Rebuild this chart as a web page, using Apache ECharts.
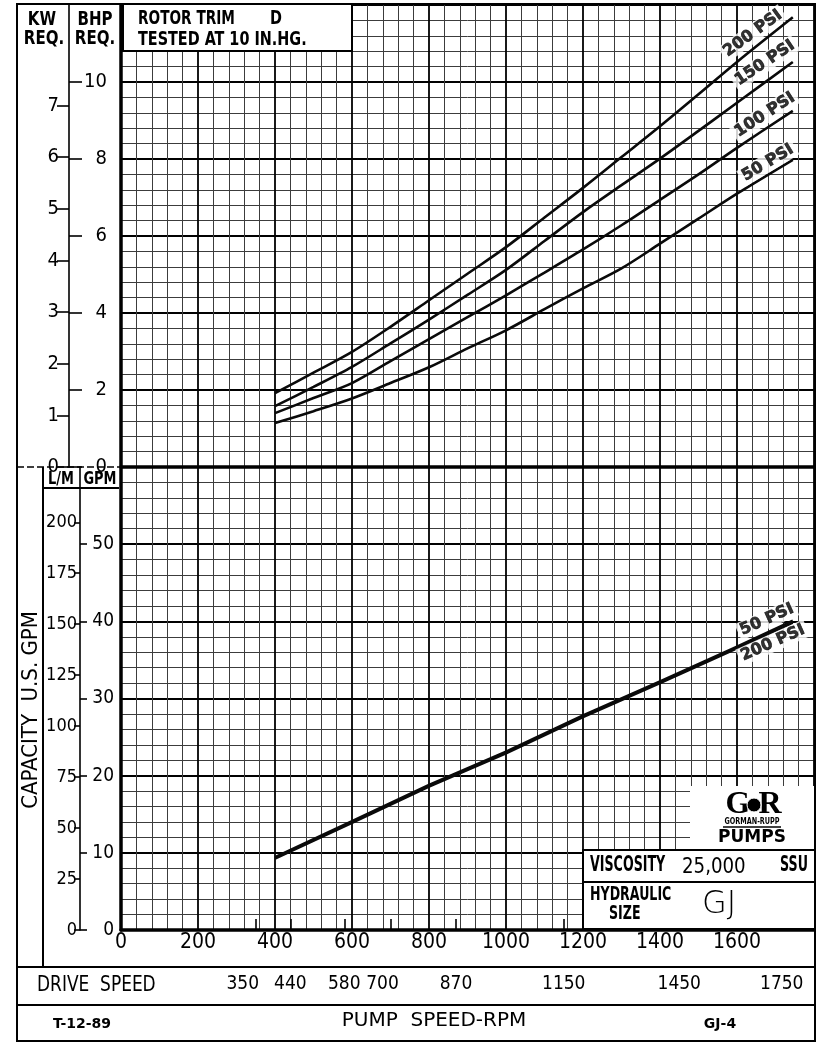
<!DOCTYPE html>
<html>
<head>
<meta charset="utf-8">
<title>GJ-4 pump performance</title>
<script src="https://cdn.jsdelivr.net/npm/echarts@6/dist/echarts.min.js"></script>
<style>
  html, body { margin: 0; padding: 0; background: #fff; }
  #chart { width: 820px; height: 1044px; }
</style>
</head>
<body>
<div id="chart"></div>
<script>
// power curves, BHP vs pump speed
const rpmBhp = [400, 500, 600, 700, 800, 900, 1000, 1100, 1200, 1300, 1400, 1500, 1600, 1745];
const bhp50  = [1.14, 1.45, 1.78, 2.18, 2.59, 3.08, 3.55, 4.10, 4.64, 5.16, 5.80, 6.45, 7.10, 7.98];
const bhp100 = [1.40, 1.79, 2.18, 2.75, 3.32, 3.89, 4.46, 5.05, 5.65, 6.28, 6.94, 7.60, 8.29, 9.25];
const bhp150 = [1.58, 2.08, 2.60, 3.21, 3.83, 4.47, 5.12, 5.87, 6.62, 7.32, 8.01, 8.73, 9.46, 10.52];
const bhp200 = [1.92, 2.45, 2.99, 3.64, 4.33, 5.02, 5.71, 6.48, 7.25, 8.05, 8.85, 9.68, 10.52, 11.68];

// capacity curves, GPM vs pump speed
const rpmGpm = [400, 600, 800, 1000, 1200, 1400, 1600, 1745];
const gpm50  = [9.45, 14.1, 18.8, 23.1, 27.8, 32.2, 36.7, 40.1];
const gpm200 = [9.25, 13.9, 18.6, 22.9, 27.6, 32.0, 36.5, 39.8];

// tick labels
const rpmLabels = [0, 200, 400, 600, 800, 1000, 1200, 1400, 1600];
const driveSpeeds = [350, 440, 580, 700, 870, 1150, 1450, 1750];
const bhpLabels = [0, 2, 4, 6, 8, 10];
const kwLabels = [0, 1, 2, 3, 4, 5, 6, 7];
const gpmLabels = [0, 10, 20, 30, 40, 50];
const lpmLabels = [0, 25, 50, 75, 100, 125, 150, 175, 200];

const KW_PER_BHP = 1 / 1.341;
const LPM_PER_GPM = 3.785;

// layout (px)
const frame = { left: 17, top: 4, right: 815, bottom: 1041 };
const plot = { left: 121, right: 814, top: 5, split: 467, bottom: 930 };
const rowA = 967, rowB = 1005;
const kwAxisX = 69, gpmAxisX = 80, lpmColX = 43;

const numFont = '"DejaVu Sans Condensed", "DejaVu Sans", sans-serif';
const cadFont = '"DejaVu Sans Condensed", sans-serif';
const wideFont = '"DejaVu Sans", sans-serif';
const plain = v => String(v);

const major = { show: true, lineStyle: { color: '#000', width: 1.8 } };
const minor = { show: true, lineStyle: { color: '#3c3c3c', width: 1 } };

function borderY(gridIndex, max, interval) {
  return {
    type: 'value', gridIndex, position: 'left', min: 0, max, interval,
    axisLine: { show: true, onZero: false, lineStyle: { color: '#000', width: 3.5 } },
    axisTick: { show: false }, axisLabel: { show: false },
    splitLine: major, minorTick: { show: false, splitNumber: 5 }, minorSplitLine: minor
  };
}

function scaleY(gridIndex, max, offset, values, o) {
  return {
    type: 'value', gridIndex, position: 'left', offset, min: 0, max,
    axisLine: { show: o.line, onZero: false, lineStyle: { color: '#000', width: 1.6 } },
    axisTick: { show: true, inside: o.inside, length: o.tick, customValues: values,
      lineStyle: { color: '#000', width: 1.6 } },
    axisLabel: { show: true, inside: o.inside, margin: o.margin, align: 'right', formatter: plain,
      customValues: values, color: '#000', fontSize: o.size, fontFamily: numFont },
    splitLine: { show: false }
  };
}

function borderX(gridIndex) {
  return {
    type: 'value', gridIndex, position: 'bottom', min: 0, max: 1800, interval: 200,
    axisLine: { show: true, onZero: false, lineStyle: { color: '#000', width: 3.5 } },
    axisTick: { show: false }, axisLabel: { show: false },
    splitLine: major, minorTick: { show: false, splitNumber: 5 }, minorSplitLine: minor
  };
}

// drive speed labels that sit a little left of their tick on the sheet
const nudge = { 350: 's', 700: 't', 1750: 's' };
const driveText = { fontSize: 19, fontFamily: numFont, color: '#000' };
const xAxes = [borderX(0), borderX(1), {
  type: 'value', gridIndex: 1, position: 'bottom', offset: rowA - plot.bottom,
  min: 0, max: 1800,
  axisLine: { show: false },
  axisTick: { show: true, inside: true, length: 11, customValues: driveSpeeds,
    lineStyle: { color: '#000', width: 1.6 } },
  axisLabel: Object.assign({ show: true, margin: 8, customValues: driveSpeeds,
    formatter: v => nudge[v] ? '{' + nudge[v] + '|' + v + '}' : String(v),
    rich: {
      s: Object.assign({ padding: [0, 26, 0, 0] }, driveText),
      t: Object.assign({ padding: [0, 16, 0, 0] }, driveText)
    } }, driveText),
  splitLine: { show: false }
}];
xAxes[1].axisLabel = { show: true, margin: 2, customValues: rpmLabels, color: '#000', formatter: plain,
  fontSize: 21, fontFamily: numFont };

const yAxes = [
  borderY(0, 12, 2),
  scaleY(0, 12, plot.left - kwAxisX, bhpLabels, { line: true, inside: true, tick: 13, margin: 38, size: 20 }),
  scaleY(0, 12 * KW_PER_BHP, plot.left - kwAxisX, kwLabels, { line: false, inside: false, tick: 12, margin: 10, size: 20 }),
  borderY(1, 60, 10),
  scaleY(1, 60, plot.left - gpmAxisX, gpmLabels, { line: true, inside: true, tick: 7, margin: 34, size: 19 }),
  scaleY(1, 60 * LPM_PER_GPM, plot.left - gpmAxisX, lpmLabels, { line: false, inside: false, tick: 6, margin: 3, size: 18 })
];

const curveStyle = { color: '#0a0a0a', width: 2.6 };
const topCurves = [
  { name: '200 PSI', values: bhp200 },
  { name: '150 PSI', values: bhp150 },
  { name: '100 PSI', values: bhp100 },
  { name: '50 PSI', values: bhp50 }
];
const bottomCurves = [
  { name: '50 PSI', values: gpm50 },
  { name: '200 PSI', values: gpm200 }
];
// PSI tags: angle and screen shift of the tag centre from the curve end
const topTag = {
  '200 PSI': { rotate: 36, shift: [-40, 16] },
  '150 PSI': { rotate: 34, shift: [-28, 1] },
  '100 PSI': { rotate: 33, shift: [-28, 4] },
  '50 PSI': { rotate: 31, shift: [-25, 3] }
};
const bottomTag = {
  '50 PSI': { rotate: 24, shift: [-26, -1] },
  '200 PSI': { rotate: 24, shift: [-20, 20] }
};

function tagLabel(t) {
  // label offset is applied in the rotated frame
  const a = t.rotate * Math.PI / 180;
  const [dx, dy] = t.shift;
  return {
    show: true, position: 'inside', align: 'center', verticalAlign: 'middle',
    rotate: t.rotate,
    offset: [dx * Math.cos(a) - dy * Math.sin(a), dx * Math.sin(a) + dy * Math.cos(a)],
    formatter: '{a}',
    color: '#000', fontSize: 16, fontWeight: 'bold', fontFamily: wideFont,
    textBorderWidth: 0.7, textBorderColor: '#000',
    backgroundColor: '#fff', padding: [1, 3]
  };
}

const series = [];
topCurves.forEach(c => {
  series.push({
    name: c.name, type: 'line', xAxisIndex: 0, yAxisIndex: 0, smooth: 0.3,
    showSymbol: false, lineStyle: curveStyle, z: 5,
    data: rpmBhp.map((r, i) => [r, c.values[i]])
  });
  const last = rpmBhp.length - 1;
  series.push({
    name: c.name, type: 'scatter', xAxisIndex: 0, yAxisIndex: 0, symbolSize: 0, z: 30,
    itemStyle: { color: '#000' },
    label: tagLabel(topTag[c.name]), data: [[rpmBhp[last], c.values[last]]]
  });
});
bottomCurves.forEach(c => {
  series.push({
    name: c.name, type: 'line', xAxisIndex: 1, yAxisIndex: 3,
    showSymbol: false, lineStyle: curveStyle, z: 5,
    data: rpmGpm.map((r, i) => [r, c.values[i]])
  });
  const last = rpmGpm.length - 1;
  series.push({
    name: c.name, type: 'scatter', xAxisIndex: 1, yAxisIndex: 3, symbolSize: 0, z: 30,
    itemStyle: { color: '#000' },
    label: tagLabel(bottomTag[c.name]), data: [[rpmGpm[last], c.values[last]]]
  });
});

// frame, boxes and fixed texts
const g = [];
function line(x1, y1, x2, y2, w, dash) {
  g.push({ type: 'line', silent: true, z: 20, shape: { x1, y1, x2, y2 },
    style: { stroke: '#000', lineWidth: w, lineDash: dash || null } });
}
function box(x, y, w, h, stroke) {
  g.push({ type: 'rect', silent: true, z: 18, shape: { x, y, width: w, height: h },
    style: { fill: '#fff', stroke: stroke ? '#000' : null, lineWidth: stroke || 0 } });
}
function txt(x, y, text, font, align, sx, rot) {
  g.push({ type: 'text', silent: true, z: 25, x, y, rotation: rot || 0, scaleX: sx || 1,
    style: { x: 0, y: 0, text, font, fill: '#000', align: align || 'left', verticalAlign: 'middle',
      textAlign: align || 'left', textVerticalAlign: 'middle' } });
}

g.push({ type: 'rect', silent: true, z: 21,
  shape: { x: frame.left, y: frame.top, width: frame.right - frame.left, height: frame.bottom - frame.top },
  style: { fill: null, stroke: '#000', lineWidth: 2 } });

// header of the power part
box(plot.left + 2, frame.top, 352 - plot.left - 2, 51 - frame.top, 2);
txt(138, 19, 'ROTOR TRIM', 'bold 20px ' + cadFont, 'left', 0.76);
txt(276, 19, 'D', 'bold 20px ' + cadFont, 'center', 0.8);
txt(138, 40, 'TESTED AT 10 IN.HG.', 'bold 20px ' + cadFont, 'left', 0.8);
txt(42, 20, 'KW', 'bold 19px ' + cadFont, 'center', 0.88);
txt(44, 39, 'REQ.', 'bold 19px ' + cadFont, 'center', 0.88);
txt(95, 20, 'BHP', 'bold 19px ' + cadFont, 'center', 0.88);
txt(95, 39, 'REQ.', 'bold 19px ' + cadFont, 'center', 0.88);

// header of the capacity part
line(frame.left, plot.split, plot.left - 2, plot.split, 1.5, [7, 3]);
line(lpmColX, plot.split, lpmColX, rowA, 2);
line(lpmColX, 488, plot.left - 2, 488, 2);
txt(61, 479, 'L/M', 'bold 18px ' + cadFont, 'center', 0.8);
txt(100, 479, 'GPM', 'bold 18px ' + cadFont, 'center', 0.8);
txt(31, 710, 'CAPACITY  U.S. GPM', '22px ' + numFont, 'center', 1, Math.PI / 2);

// rows under the plot
line(frame.left, rowA, frame.right, rowA, 2);
line(frame.left, rowB, frame.right, rowB, 2);
txt(37, 986, 'DRIVE  SPEED', '21px ' + cadFont, 'left', 0.9);
txt(53, 1024, 'T-12-89', 'bold 14px ' + wideFont);
txt(434, 1021, 'PUMP  SPEED-RPM', '20px ' + wideFont, 'center');
txt(720, 1024, 'GJ-4', 'bold 14px ' + wideFont, 'center');

// maker's logo and data boxes
box(690, 786, frame.right - 690, 850 - 786, 0);
box(583, 850, frame.right - 583, 32, 2);
box(583, 882, frame.right - 583, plot.bottom - 882 - 1, 2);
txt(738, 805, 'G', 'bold 32px "Liberation Serif", serif', 'center');
txt(770, 805, 'R', 'bold 32px "Liberation Serif", serif', 'center');
g.push({ type: 'circle', silent: true, z: 26, shape: { cx: 754, cy: 805, r: 7 },
  style: { fill: '#000', stroke: '#fff', lineWidth: 1 } });
txt(752, 822, 'GORMAN-RUPP', 'bold 9px ' + cadFont, 'center', 0.8);
line(723, 827, 781, 827, 1.5);
txt(752, 838, 'PUMPS', 'bold 17px ' + wideFont, 'center');
txt(590, 866, 'VISCOSITY', 'bold 21px ' + cadFont, 'left', 0.67);
txt(682, 867, '25,000', '22px ' + numFont, 'left', 0.92);
txt(808, 866, 'SSU', 'bold 21px ' + cadFont, 'right', 0.67);
txt(590, 895, 'HYDRAULIC', 'bold 20px ' + cadFont, 'left', 0.7);
txt(609, 914, 'SIZE', 'bold 20px ' + cadFont, 'left', 0.7);
txt(702, 905, 'GJ', '200 32px ' + wideFont);

const chart = echarts.init(document.getElementById('chart'), null, { renderer: 'canvas' });
chart.setOption({
  animation: false,
  backgroundColor: '#fff',
  grid: [
    { left: plot.left, top: plot.top, width: plot.right - plot.left, height: plot.split - plot.top },
    { left: plot.left, top: plot.split, width: plot.right - plot.left, height: plot.bottom - plot.split }
  ],
  xAxis: xAxes,
  yAxis: yAxes,
  series,
  graphic: { elements: g }
});
</script>
</body>
</html>
